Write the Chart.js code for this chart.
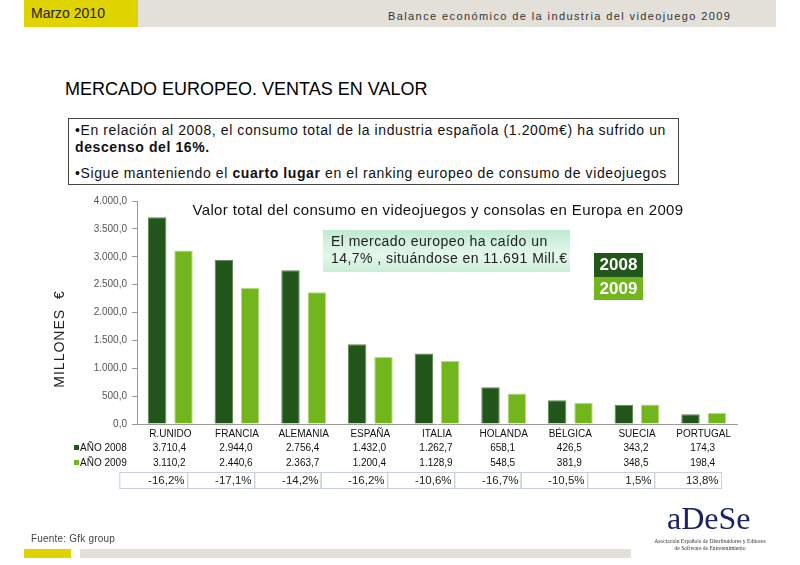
<!DOCTYPE html>
<html>
<head>
<meta charset="utf-8">
<script src="https://cdn.jsdelivr.net/npm/chart.js@4.4.0/dist/chart.umd.min.js"></script>
<style>
  body { margin: 0; background: #fff; font-family: "Liberation Sans", Arial, sans-serif; }
  #slide { position: relative; width: 800px; height: 565px; overflow: hidden; }
  #myChart { position: absolute; left: 0; top: 0; }
  .abs { position: absolute; white-space: nowrap; }
</style>
</head>
<body>
<div id="slide">
  <div class="abs" style="left:24px;top:0;width:114px;height:27px;background:#dfd300;"></div>
  <div class="abs" style="left:138px;top:0;width:638px;height:27px;background:#e3e0da;"></div>
  <div class="abs" style="left:31px;top:5px;font-size:14px;color:#222;">Marzo 2010</div>
  <div class="abs" style="left:388px;top:10px;font-size:11px;letter-spacing:1.4px;color:#333;">Balance económico de la industria del videojuego 2009</div>

  <div class="abs" style="left:65px;top:79px;font-size:18px;color:#000;">MERCADO EUROPEO. VENTAS EN VALOR</div>

  <div class="abs" style="left:68px;top:118px;width:611px;height:67px;border:1px solid #444;box-sizing:border-box;"></div>
  <div class="abs" style="left:75px;top:122px;font-size:14px;letter-spacing:0.6px;color:#111;line-height:17px;">•En relación al 2008, el consumo total de la industria española (1.200m€) ha sufrido un<br><b>descenso del 16%.</b></div>
  <div class="abs" style="left:75px;top:165px;font-size:14px;letter-spacing:0.6px;color:#111;">•Sigue manteniendo el <b>cuarto lugar</b> en el ranking europeo de consumo de videojuegos</div>

  <canvas id="myChart" width="800" height="565"></canvas>

  <div class="abs" style="left:323px;top:230px;width:247px;height:42px;background:linear-gradient(#bfead0,#e6f7ec 60%,#c9eed7);"></div>
  <div class="abs" style="left:331px;top:233px;font-size:14px;letter-spacing:0.45px;color:#222;line-height:17px;">El mercado europeo ha caído un<br>14,7% , situándose en 11.691 Mill.€</div>

  <div class="abs" style="left:594px;top:253px;width:49px;height:24px;background:#22561a;color:#fff;font-weight:bold;font-size:17px;text-align:center;line-height:24px;">2008</div>
  <div class="abs" style="left:594px;top:277px;width:49px;height:23px;background:#72b51d;color:#fff;font-weight:bold;font-size:17px;text-align:center;line-height:23px;">2009</div>

  <div class="abs" style="left:31px;top:533px;font-size:10px;color:#444;letter-spacing:0.2px;">Fuente: Gfk group</div>
  <div class="abs" style="left:24px;top:549px;width:47px;height:9px;background:#dfd300;"></div>
  <div class="abs" style="left:80px;top:549px;width:551px;height:9px;background:#e3e0da;"></div>

  <div class="abs" style="left:667px;top:500px;font-family:'Liberation Serif',serif;font-size:32px;color:#1c2266;">aDeSe</div>
  <div class="abs" style="left:648px;top:538px;width:124px;text-align:center;font-family:'Liberation Serif',serif;font-size:5.6px;line-height:7px;color:#333;">Asociación Española de Distribuidores y Editores<br>de Software de Entretenimiento</div>
</div>

<script>
var paises = ['R.UNIDO', 'FRANCIA', 'ALEMANIA', 'ESPAÑA', 'ITALIA', 'HOLANDA', 'BÉLGICA', 'SUECIA', 'PORTUGAL'];
var ventas2008 = [3710.4, 2944.0, 2756.4, 1432.0, 1262.7, 658.1, 426.5, 343.2, 174.3];
var ventas2009 = [3110.2, 2440.6, 2363.7, 1200.4, 1128.9, 548.5, 381.9, 348.5, 198.4];
var variacion = ['-16,2%', '-17,1%', '-14,2%', '-16,2%', '-10,6%', '-16,7%', '-10,5%', '1,5%', '13,8%'];

var verdeOscuro = '#22561a';
var verdeClaro = '#72b51d';

// 3710.4 -> "3.710,4"
function formatoEs(n) {
    var partes = n.toFixed(1).split('.');
    partes[0] = partes[0].replace(/\B(?=(\d{3})+(?!\d))/g, '.');
    return partes[0] + ',' + partes[1];
}

// title, y axis title and the data table under the x axis
var extras = {
    id: 'extras',
    afterDraw: function(chart) {
        var ctx = chart.ctx;
        var x = chart.scales.x;
        var area = chart.chartArea;
        ctx.save();

        ctx.fillStyle = '#111';
        ctx.font = '15px "Liberation Sans", Arial, sans-serif';
        ctx.letterSpacing = '0.35px';
        ctx.textAlign = 'center';
        ctx.textBaseline = 'middle';
        ctx.fillText('Valor total del consumo en videojuegos y consolas en Europa en 2009', 438, 211);

        ctx.save();
        ctx.translate(60, 339);
        ctx.rotate(-Math.PI / 2);
        ctx.font = '14px "Liberation Sans", Arial, sans-serif';
        ctx.letterSpacing = '1px';
        ctx.fillStyle = '#222';
        ctx.fillText('MILLONES  €', 0, 0);
        ctx.restore();
        ctx.letterSpacing = '0px';

        var filas = [
            { nombre: 'AÑO 2008', color: verdeOscuro, datos: ventas2008, y: 448 },
            { nombre: 'AÑO 2009', color: verdeClaro, datos: ventas2009, y: 463 }
        ];
        ctx.font = '10px "Liberation Sans", Arial, sans-serif';
        filas.forEach(function(f) {
            ctx.fillStyle = f.color;
            ctx.fillRect(74, f.y - 3, 5, 5);
            ctx.fillStyle = '#111';
            ctx.textAlign = 'left';
            ctx.fillText(f.nombre, 80, f.y);
            ctx.textAlign = 'center';
            f.datos.forEach(function(v, i) {
                ctx.fillText(formatoEs(v), x.getPixelForValue(i) - 1, f.y);
            });
        });

        var ancho = (area.right - area.left) / paises.length;
        ctx.strokeStyle = '#c8cfe0';
        ctx.lineWidth = 1;
        ctx.font = '11.5px "Liberation Sans", Arial, sans-serif';
        ctx.textAlign = 'right';
        variacion.forEach(function(t, i) {
            var der = Math.round(x.getPixelForValue(i) + 17) + 0.5;
            var izq = der - ancho;
            if (i === 0) izq -= 1;
            ctx.strokeRect(izq, 472.5, der - izq, 16);
            ctx.fillStyle = '#222';
            ctx.fillText(t, der - 3, 481);
        });
        ctx.restore();
    }
};

var ctx = document.getElementById('myChart').getContext('2d');
var myChart = new Chart(ctx, {
    type: 'bar',
    data: {
        labels: paises,
        datasets: [{
            label: 'AÑO 2008',
            data: ventas2008,
            backgroundColor: verdeOscuro,
            borderColor: '#5d8a4e',
            borderWidth: 1,
            barPercentage: 0.7,
            categoryPercentage: 0.79
        }, {
            label: 'AÑO 2009',
            data: ventas2009,
            backgroundColor: verdeClaro,
            borderColor: '#b4dc84',
            borderWidth: 1,
            barPercentage: 0.7,
            categoryPercentage: 0.79
        }]
    },
    options: {
        responsive: false,
        animation: false,
        layout: { padding: { left: 0, top: 201, right: 63, bottom: 121 } },
        plugins: {
            legend: { display: false },
            tooltip: { enabled: false }
        },
        scales: {
            x: {
                grid: { display: false, drawTicks: false },
                border: { color: '#9a9a9a' },
                ticks: {
                    color: '#111',
                    padding: 4,
                    maxRotation: 0,
                    font: { size: 10, family: '"Liberation Sans", Arial, sans-serif' }
                },
                afterFit: function(scale) { scale.height = 20; }
            },
            y: {
                min: 0,
                max: 4000,
                grid: { drawOnChartArea: false, tickLength: 5, color: '#9a9a9a' },
                border: { color: '#9a9a9a' },
                ticks: {
                    stepSize: 500,
                    color: '#555',
                    padding: 5,
                    font: { size: 10, family: '"Liberation Sans", Arial, sans-serif' },
                    callback: function(v) { return formatoEs(v); }
                },
                afterFit: function(scale) { scale.width = 137; }
            }
        }
    },
    plugins: [extras]
});
</script>
</body>
</html>
